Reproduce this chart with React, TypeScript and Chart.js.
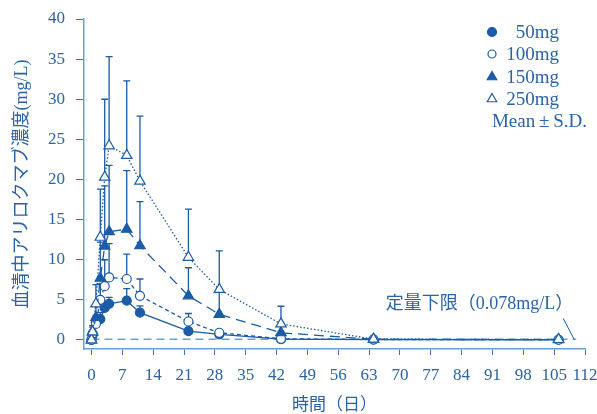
import React, { useEffect, useRef } from 'react';
import { Chart, registerables } from 'chart.js';

Chart.register(...registerables);

// Sampling times (days after a single dose)
const days = [0, 0.25, 1, 2, 3, 4, 8, 11, 22, 29, 43, 64, 106];

// Mean serum alirocumab concentration (mg/L) and upper S.D. per dose group
const mean50 = [0, 0.6, 2.2, 2.6, 4.0, 4.5, 4.9, 3.4, 1.1, 0.7, 0.1, 0.05, 0.03];
const sd50 = [0, 0.3, 0.6, 0.8, 0.7, 0.8, 1.5, 0.85, 0.35, 0.25, 0.05, 0, 0];
const mean100 = [0, 0.8, 2.0, 5.0, 6.7, 7.8, 7.6, 5.5, 2.3, 0.9, 0.15, 0.06, 0.03];
const sd100 = [0, 0.4, 1.0, 2.0, 3.3, 4.2, 3.1, 2.1, 1.0, 0.4, 0.1, 0, 0];
const mean150 = [0, 1.0, 2.8, 7.7, 11.7, 13.5, 13.8, 11.75, 5.5, 3.2, 0.9, 0.08, 0.04];
const sd150 = [0, 0.8, 1.6, 4.5, 7.5, 8.25, 7.3, 5.5, 3.5, 2.8, 0.9, 0.05, 0];
const mean250 = [0, 1.0, 4.5, 12.8, 20.3, 24.2, 23.0, 19.8, 10.3, 6.3, 2.0, 0.1, 0.06];
const sd250 = [0, 0.6, 2.4, 6.0, 9.7, 11.1, 9.3, 8.1, 6.0, 4.8, 2.2, 0.1, 0];

const doseLabels = ['50mg', '100mg', '150mg', '250mg'];
const summaryLabel = 'Mean\u2009\u00B1\u2009S.D.';

// Lower limit of quantification
const lloq = 0.078;
const lloqSpan = [0, 110];
const lloqLabel = '定量下限（0.078mg/L）';

const xTicks = [0, 7, 14, 21, 28, 35, 42, 49, 56, 63, 70, 77, 84, 91, 98, 105, 112];
const yTicks = [0, 5, 10, 15, 20, 25, 30, 35, 40];

const xTitle = '時間（日）';
const yTitle = '血清中アリロクマブ濃度(mg/L)';

const INK = '#1b5ba7';
const AXIS = '#6d9dd3';
const TICK = '#3a74ba';
const TEXT = '#2a63a9';
const FAINT = '#6fa0d6';
const FONT = '"Liberation Serif", "Noto Sans CJK JP", serif';

type Marker = { style: 'circle' | 'triangle'; filled: boolean };
const markers: Marker[] = [
  { style: 'circle', filled: true },
  { style: 'circle', filled: false },
  { style: 'triangle', filled: true },
  { style: 'triangle', filled: false },
];
const dashes = [[], [4, 3], [10, 6], [1.5, 2]];
const means = [mean50, mean100, mean150, mean250];
const sds = [sd50, sd100, sd150, sd250];

function drawMarker(ctx: CanvasRenderingContext2D, m: Marker, x: number, y: number, r: number) {
  ctx.save();
  ctx.beginPath();
  if (m.style === 'circle') {
    ctx.arc(x, y, r, 0, Math.PI * 2);
  } else {
    const s = Math.sin(Math.PI / 3) * r;
    ctx.moveTo(x, y - r);
    ctx.lineTo(x + s, y + r / 2);
    ctx.lineTo(x - s, y + r / 2);
    ctx.closePath();
  }
  ctx.fillStyle = m.filled ? INK : '#ffffff';
  ctx.fill();
  ctx.lineWidth = 1.2;
  ctx.strokeStyle = INK;
  ctx.stroke();
  ctx.restore();
}

// Upward S.D. whiskers, drawn beneath the markers
const errorBars = {
  id: 'errorBars',
  beforeDatasetsDraw(chart: any) {
    const { ctx } = chart;
    const xs = chart.scales.x;
    const ys = chart.scales.y;
    ctx.save();
    ctx.strokeStyle = INK;
    ctx.lineWidth = 1.3;
    sds.forEach((sd, i) => {
      const m = means[i];
      days.forEach((d, j) => {
        if (!sd[j]) return;
        const px = xs.getPixelForValue(d);
        const y0 = ys.getPixelForValue(m[j]);
        const y1 = ys.getPixelForValue(m[j] + sd[j]);
        ctx.beginPath();
        ctx.moveTo(px, y0);
        ctx.lineTo(px, y1);
        ctx.moveTo(px - 3.5, y1);
        ctx.lineTo(px + 3.5, y1);
        ctx.stroke();
      });
    });
    ctx.restore();
  },
};

// Legend block, x-axis title and the LLOQ callout
const overlay = {
  id: 'overlay',
  afterDraw(chart: any) {
    const { ctx, chartArea } = chart;
    const xs = chart.scales.x;
    const ys = chart.scales.y;
    ctx.save();
    ctx.font = `19px ${FONT}`;
    ctx.fillStyle = TEXT;
    ctx.textBaseline = 'middle';
    const rows = [32, 54, 77, 99];
    doseLabels.forEach((lab, i) => {
      const r = markers[i].style === 'circle' ? (markers[i].filled ? 4.5 : 4) : 5.5;
      drawMarker(ctx, markers[i], 492, rows[i], r);
      ctx.textAlign = 'right';
      ctx.fillText(lab, 559, rows[i] + 1);
    });
    ctx.textAlign = 'right';
    ctx.fillText(summaryLabel, 587, 122);

    ctx.font = `17px ${FONT}`;
    ctx.textAlign = 'center';
    ctx.fillText(xTitle, (chartArea.left + chartArea.right) / 2, 406);

    const xe = xs.getPixelForValue(lloqSpan[1]);
    const yl = ys.getPixelForValue(lloq);
    ctx.strokeStyle = INK;
    ctx.lineWidth = 1;
    ctx.beginPath();
    ctx.moveTo(xe - 2, yl);
    ctx.lineTo(xe - 13, yl - 21);
    ctx.stroke();
    ctx.font = `18px ${FONT}`;
    ctx.textAlign = 'right';
    ctx.fillText(lloqLabel, xe - 3, yl - 35);
    ctx.restore();
  },
};

export default function App() {
  const ref = useRef<HTMLCanvasElement | null>(null);

  useEffect(() => {
    if (!ref.current) return;
    const datasets: any[] = means.map((m, i) => ({
      label: doseLabels[i],
      data: days.map((d, j) => ({ x: d, y: m[j] })),
      borderColor: INK,
      borderWidth: 1.3,
      borderDash: dashes[i],
      backgroundColor: markers[i].filled ? INK : '#ffffff',
      pointStyle: markers[i].style,
      pointRadius: markers[i].style === 'circle' ? 4.5 : 6,
      pointBorderWidth: 1.2,
      pointBorderColor: INK,
      pointBackgroundColor: markers[i].filled ? INK : '#ffffff',
      tension: 0,
      fill: false,
      order: 4 - i,
      clip: false,
    }));
    datasets.push({
      label: 'LLOQ',
      data: lloqSpan.map((d) => ({ x: d, y: lloq })),
      borderColor: FAINT,
      borderWidth: 1.5,
      borderDash: [8, 5],
      pointRadius: 0,
      fill: false,
      order: 10,
    });

    const chart = new Chart(ref.current, {
      type: 'line',
      data: { datasets },
      options: {
        animation: false,
        responsive: false,
        maintainAspectRatio: false,
        layout: { padding: { top: 19, right: 12, bottom: 0, left: 0 } },
        plugins: { legend: { display: false }, tooltip: { enabled: false } },
        scales: {
          x: {
            type: 'linear',
            min: -1.7,
            max: 112,
            afterBuildTicks: (s: any) => {
              s.ticks = xTicks.map((v) => ({ value: v }));
            },
            afterFit: (s: any) => {
              s.height = 65;
              s.paddingLeft = 0;
              s.paddingRight = 0;
            },
            grid: { display: true, drawOnChartArea: false, drawTicks: true, tickLength: 6, color: TICK, lineWidth: 1 },
            border: { display: true, color: AXIS, width: 1.5 },
            ticks: { color: TEXT, font: { family: FONT, size: 17 }, padding: 10, maxRotation: 0, autoSkip: false },
            title: { display: false, text: xTitle },
          },
          y: {
            type: 'linear',
            min: -1.125,
            max: 40,
            afterBuildTicks: (s: any) => {
              s.ticks = yTicks.map((v) => ({ value: v }));
            },
            afterFit: (s: any) => {
              s.width = 84;
              s.paddingTop = 0;
              s.paddingBottom = 0;
            },
            grid: { display: true, drawOnChartArea: false, drawTicks: true, tickLength: 8, color: TICK, lineWidth: 1 },
            border: { display: true, color: AXIS, width: 1.5 },
            ticks: { color: TEXT, font: { family: FONT, size: 17 }, padding: 11 },
            title: { display: true, text: yTitle, color: TEXT, font: { family: FONT, size: 18 }, padding: { top: 11, bottom: 0 } },
          },
        },
      },
      plugins: [errorBars, overlay],
    });
    return () => chart.destroy();
  }, []);

  return (
    <div style={{ position: 'absolute', left: 0, top: 0, width: 597, height: 414, background: '#ffffff' }}>
      <canvas ref={ref} width={597} height={414} style={{ display: 'block', width: 597, height: 414 }} />
    </div>
  );
}
